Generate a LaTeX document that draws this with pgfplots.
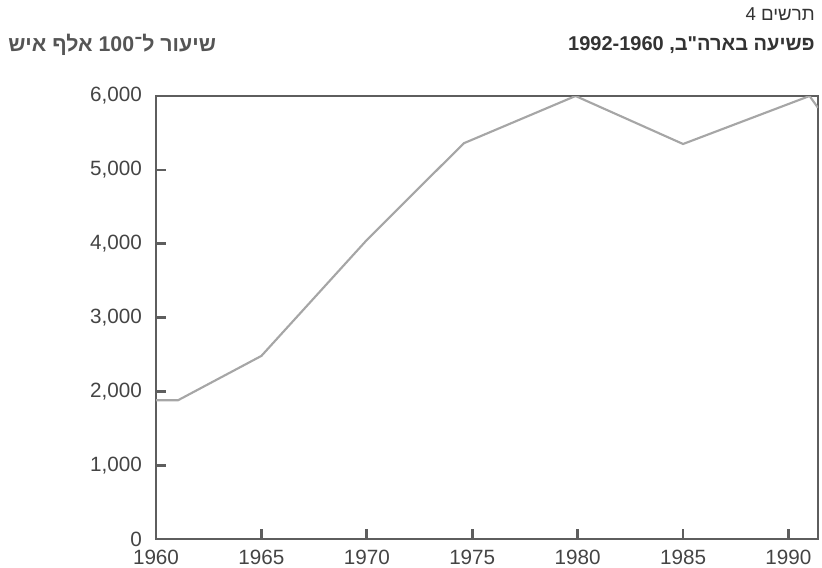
\documentclass[border=0pt]{standalone}
\usepackage{fontspec}
\setmainfont{Liberation Sans}
\newfontfamily\hebfont[Script=Hebrew]{Liberation Sans}
\TeXXeTstate=1
\usepackage{pgfplots}
\pgfplotsset{compat=1.18}
\definecolor{axisgray}{HTML}{5E5E5E}
\definecolor{linegray}{HTML}{A6A6A6}
\definecolor{textgray}{HTML}{444444}
\definecolor{titlegray}{HTML}{333333}
\definecolor{labelgray}{HTML}{555555}
\begin{document}
\begin{tikzpicture}
\path[use as bounding box] (0,0) rectangle (616.5pt,426pt);
\begin{axis}[
 at={(117pt,21.75pt)}, anchor=south west,
 scale only axis, width=496.5pt, height=332.25pt,
 xmin=1960, xmax=1991.4, ymin=0, ymax=6000,
 xtick={1960,1965,...,1990}, ytick={0,1000,...,6000},
 xtick pos=bottom, ytick pos=left, tick align=inside,
 major tick length=7.5pt,
 axis line style={axisgray, line width=2pt},
 tick style={axisgray, line width=2pt},
 tick label style={font=\fontsize{15.5}{18}\selectfont, text=textgray},
 /pgf/number format/assume math mode=true,
 yticklabel style={/pgf/number format/1000 sep={,}, xshift=-7pt},
 xticklabel style={/pgf/number format/1000 sep={}, yshift=-5pt},
]
\addplot[linegray, line width=1.6pt] coordinates {(1960,1880) (1961.05,1880) (1965,2480) (1970,4050) (1974.6,5360) (1979.9,6000) (1985,5350) (1991,6000) (1991.4,5840)};
\end{axis}
\node[anchor=east, inner sep=0pt, text=titlegray, font=\hebfont\fontsize{14}{16}\selectfont] at (611.25pt,415.5pt) {\beginR תרשים \beginL4\endL\endR};
\node[anchor=east, inner sep=0pt, text=titlegray, font=\hebfont\bfseries\fontsize{15}{17}\selectfont] at (611.25pt,392.25pt) {\beginR פשיעה בארה"ב, \beginL1992-1960\endL\endR};
\node[anchor=west, inner sep=0pt, text=labelgray, font=\hebfont\bfseries\fontsize{16}{18}\selectfont] at (6pt,392.25pt) {\beginR שיעור ל־\beginL100\endL{} אלף איש\endR};
\end{tikzpicture}
\end{document}
